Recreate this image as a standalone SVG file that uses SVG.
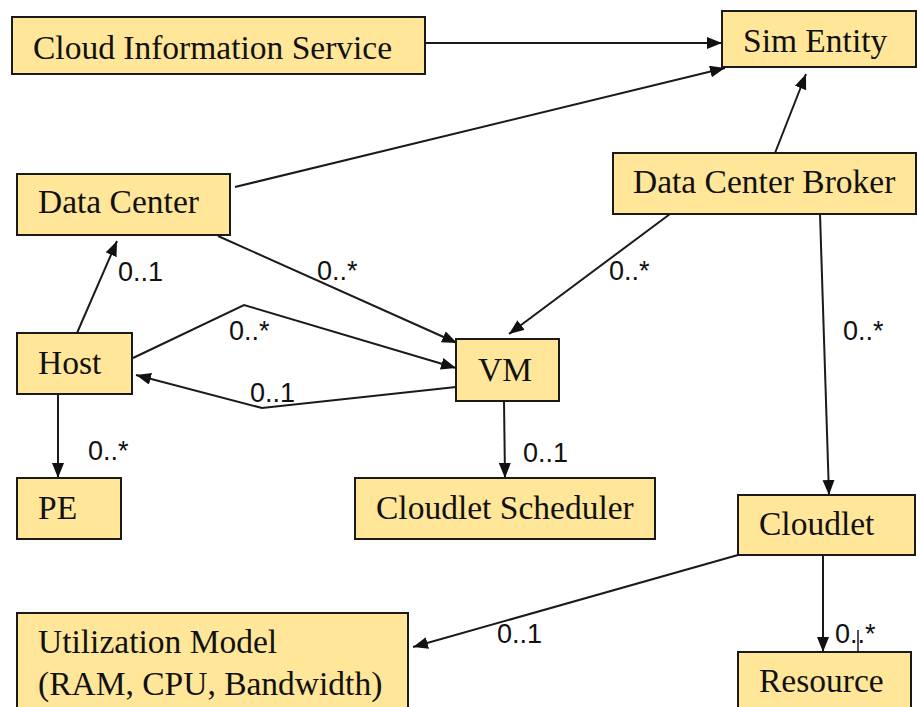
<svg xmlns="http://www.w3.org/2000/svg" width="917" height="707" viewBox="0 0 917 707">
<defs>
<marker id="arr" markerUnits="userSpaceOnUse" markerWidth="16" markerHeight="14" refX="15" refY="6" orient="auto">
<path d="M0,0 L15,6 L0,12 Z" fill="#111"/>
</marker>
<style>
.box{fill:#FFE699;stroke:#1a1a1a;stroke-width:2}
.t{font-family:"Liberation Serif","Times New Roman",serif;font-size:33.5px;fill:#111}
.c{fill:none;stroke:#1a1a1a;stroke-width:2}
.a{marker-end:url(#arr)}
.m{font-family:"Liberation Sans",Arial,sans-serif;font-size:27px;fill:#111}
</style>
</defs>
<rect width="917" height="707" fill="#fff"/>
<g id="connectors">
<line class="c a" x1="425" y1="43" x2="722" y2="43"/>
<line class="c a" x1="235" y1="187" x2="725" y2="68"/>
<line class="c a" x1="775" y1="153" x2="806" y2="74"/>
<line class="c a" x1="218" y1="236" x2="457" y2="343"/>
<line class="c a" x1="77" y1="333" x2="117" y2="241"/>
<polyline class="c a" points="133,358 244,305 456,368"/>
<polyline class="c a" points="456,387 262,408 136,375"/>
<line class="c a" x1="58" y1="394" x2="58" y2="478"/>
<line class="c a" x1="670" y1="214" x2="509" y2="334"/>
<line class="c a" x1="504" y1="401" x2="505" y2="478"/>
<line class="c a" x1="820" y1="214" x2="829" y2="495"/>
<line class="c a" x1="738" y1="555" x2="413" y2="647"/>
<line class="c a" x1="823" y1="555" x2="823" y2="652"/>
<line x1="858" y1="630" x2="858" y2="652" stroke="#1a1a1a" stroke-width="1.5"/>
<text class="m" x="118" y="281">0..1</text>
<text class="m" x="317" y="280">0..*</text>
<text class="m" x="229" y="340">0..*</text>
<text class="m" x="250" y="402">0..1</text>
<text class="m" x="88" y="460">0..*</text>
<text class="m" x="609" y="280">0..*</text>
<text class="m" x="523" y="462">0..1</text>
<text class="m" x="843" y="340">0..*</text>
<text class="m" x="497" y="643">0..1</text>
<text class="m" x="835" y="643">0..*</text>
</g>
<g id="cloud-information-service"><rect class="box" x="12" y="17" width="413" height="57"/><text class="t" x="33" y="59">Cloud Information Service</text></g>
<g id="sim-entity"><rect class="box" x="722" y="11" width="194" height="56"/><text class="t" x="743" y="52">Sim Entity</text></g>
<g id="data-center"><rect class="box" x="17" y="174" width="213" height="61"/><text class="t" x="38" y="213">Data Center</text></g>
<g id="data-center-broker"><rect class="box" x="613" y="153" width="303" height="61"/><text class="t" x="633" y="193">Data Center Broker</text></g>
<g id="host"><rect class="box" x="17" y="333" width="115" height="61"/><text class="t" x="38" y="374">Host</text></g>
<g id="vm"><rect class="box" x="456" y="339" width="103" height="62"/><text class="t" x="478" y="381">VM</text></g>
<g id="pe"><rect class="box" x="17" y="478" width="104" height="61"/><text class="t" x="38" y="519">PE</text></g>
<g id="cloudlet-scheduler"><rect class="box" x="355" y="478" width="300" height="61"/><text class="t" x="376" y="519">Cloudlet Scheduler</text></g>
<g id="cloudlet"><rect class="box" x="738" y="495" width="177" height="60"/><text class="t" x="759" y="535">Cloudlet</text></g>
<g id="utilization-model"><rect class="box" x="17" y="613" width="391" height="100"/><text class="t" x="38" y="653">Utilization Model</text><text class="t" x="38" y="695">(RAM, CPU, Bandwidth)</text></g>
<g id="resource"><rect class="box" x="738" y="652" width="173" height="60"/><text class="t" x="759" y="692">Resource</text></g>
</svg>
